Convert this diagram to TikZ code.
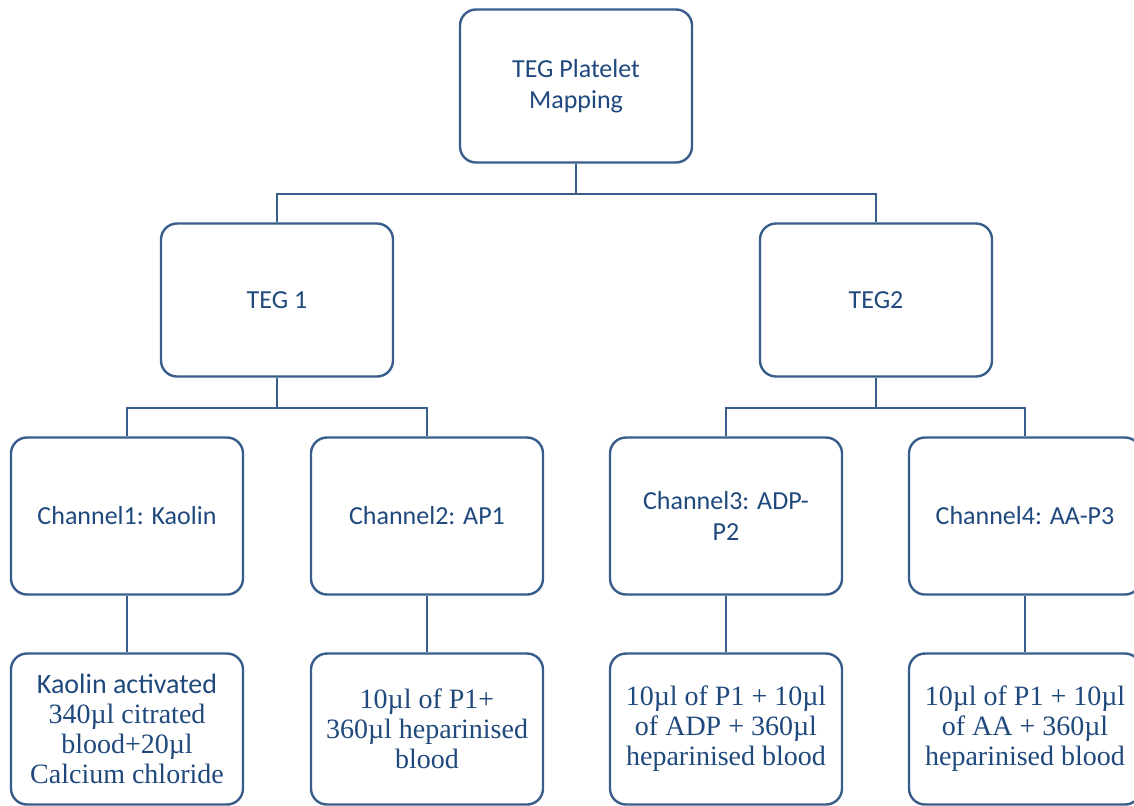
\documentclass[tikz,border=0pt]{standalone}
\usepackage{fontspec}
\setmainfont{Liberation Serif}
\newfontfamily\calibri{Carlito}
\usepackage{tikz}
\usetikzlibrary{positioning}
\definecolor{mapLine}{HTML}{385D8A}
\definecolor{mapText}{HTML}{1F497D}

\begin{document}
\begin{tikzpicture}[
  x=0.5pt, y=-0.5pt,
  box/.style={rectangle,rounded corners=8pt,draw=mapLine,line width=1.2pt,fill=white,align=center,minimum width=116pt,minimum height=76.5pt,text=mapText,font=\calibri\fontsize{13}{15.5}\selectfont},
  chan/.style={box,minimum height=78.5pt},
  recipe/.style={box,minimum height=75.5pt,font=\fontsize{14}{15}\selectfont},
  link/.style={line width=1.2pt,draw=mapLine}
]
\useasboundingbox (0,0) rectangle (1134,805);

\node[box] (map) at (576,86) {TEG Platelet\\Mapping};
\node[box] (teg1) at (277,300) {TEG 1};
\node[box] (teg2) at (876,300) {TEG2};

\node[chan] (ch1) at (127,516) {Channel1: Kaolin};
\node[chan] (ch2) at (427,516) {Channel2: AP1};
\node[chan] (ch3) at (726,516) {Channel3: ADP-\\P2};
\node[chan] (ch4) at (1025,516) {Channel4: AA-P3};

\node[recipe] (mix1) at (127,729) {{\calibri Kaolin activated}\\340µl citrated\\blood+20µl\\Calcium chloride};
\node[recipe] (mix2) at (427,729) {10µl of P1+\\360µl heparinised\\blood};
\node[recipe] (mix3) at (726,729) {10µl of P1 + 10µl\\of ADP + 360µl\\heparinised blood};
\node[recipe] (mix4) at (1025,729) {10µl of P1 + 10µl\\of AA + 360µl\\heparinised blood};

% tree connectors
\coordinate (j0) at (576,194);
\coordinate (j1) at (277,408);
\coordinate (j2) at (876,408);
\draw[link] (map) -- (j0);
\draw[link] (j0) -| (teg1);
\draw[link] (j0) -| (teg2);
\draw[link] (teg1) -- (j1);
\draw[link] (j1) -| (ch1);
\draw[link] (j1) -| (ch2);
\draw[link] (teg2) -- (j2);
\draw[link] (j2) -| (ch3);
\draw[link] (j2) -| (ch4);
\draw[link] (ch1) -- (mix1);
\draw[link] (ch2) -- (mix2);
\draw[link] (ch3) -- (mix3);
\draw[link] (ch4) -- (mix4);
\end{tikzpicture}
\end{document}
